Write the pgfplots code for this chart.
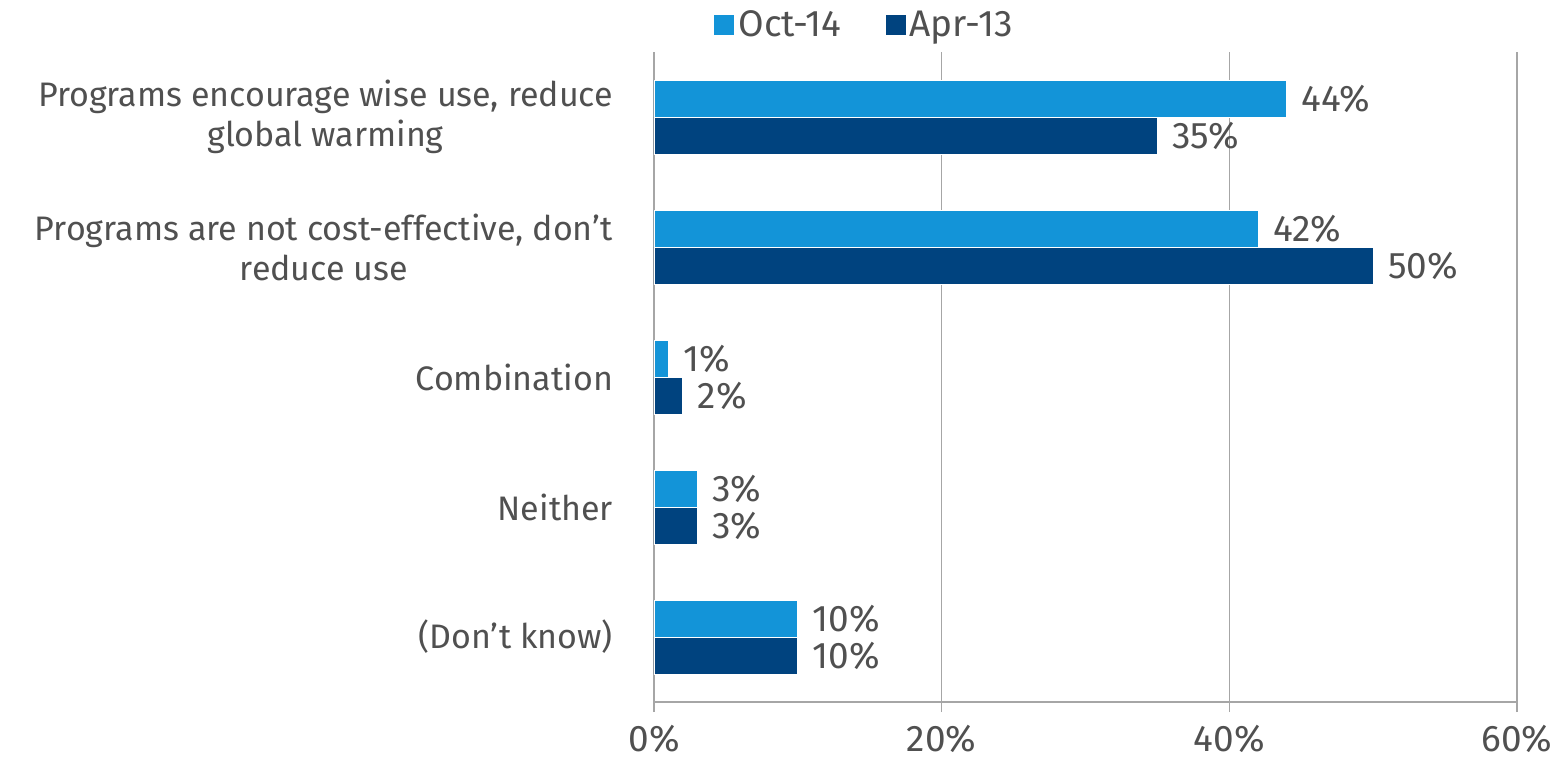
\documentclass[border=0pt]{standalone}
\usepackage{pgfplots}
\pgfplotsset{compat=1.18}
\usepackage{fontspec}
\setmainfont{Fira Sans}
\definecolor{lightb}{HTML}{1394D8}
\definecolor{darkb}{HTML}{00437F}
\definecolor{txt}{HTML}{505050}
\definecolor{gridc}{HTML}{A6A6A6}
\begin{document}
\begin{tikzpicture}
\useasboundingbox (-327pt,-29pt) rectangle (453.5pt,351pt);
\begin{axis}[
  at={(0pt,0pt)}, anchor=south west,
  scale only axis, width=431.5pt, height=325pt,
  xbar, bar width=18.5pt,
  xmin=0, xmax=60,
  ymin=-0.5, ymax=4.5, y dir=reverse,
  axis x line=bottom, axis y line=left,
  axis line style={gridc, line width=0.8pt, -},
  xtick={0,20,40,60},
  xticklabel={\pgfmathprintnumber{\tick}\%},
  xmajorgrids, major grid style={gridc, line width=0.8pt},
  tick align=outside,
  major tick style={gridc, line width=0.8pt},
  minor tick style={gridc, line width=0.8pt},
  x tick label style={font=\fontsize{18.5}{20}\selectfont, text=txt, yshift=-3pt},
  major tick length=5pt,
  ytick={0,1,2,3,4},
  y tick style={draw=none},
  minor ytick={-0.5,0.5,1.5,2.5,3.5,4.5},
  minor tick length=6pt,
  yticklabels={{Programs encourage wise use, reduce\\global warming},{Programs are not cost-effective, don’t\\reduce use},Combination,Neither,(Don’t know)},
  y tick label style={font=\fontsize{17}{20}\selectfont, text=txt, align=center, xshift=-12pt},
  /pgf/number format/assume math mode=true,
  nodes near coords={\pgfmathprintnumber{\pgfplotspointmeta}\%},
  point meta=x,
  nodes near coords style={font=\fontsize{18.5}{20}\selectfont, text=txt, anchor=west, xshift=4pt},
  legend columns=2,
  legend style={at={(0.0626,1.0415)}, anchor=west, draw=none, fill=none,
    font=\fontsize{18.5}{20}\selectfont, text=txt,
    /tikz/every even column/.append style={column sep=20pt}},
  legend image code/.code={\fill[#1,draw=none] (0pt,-5pt) rectangle (10pt,5pt);},
]
\addplot[fill=lightb, draw=white, line width=0.4pt, bar shift=9.25pt] coordinates {(44,0) (42,1) (1,2) (3,3) (10,4)};
\addplot[fill=darkb, draw=white, line width=0.4pt, bar shift=-9.25pt] coordinates {(35,0) (50,1) (2,2) (3,3) (10,4)};
\legend{Oct-14, Apr-13}
\end{axis}
\end{tikzpicture}
\end{document}
